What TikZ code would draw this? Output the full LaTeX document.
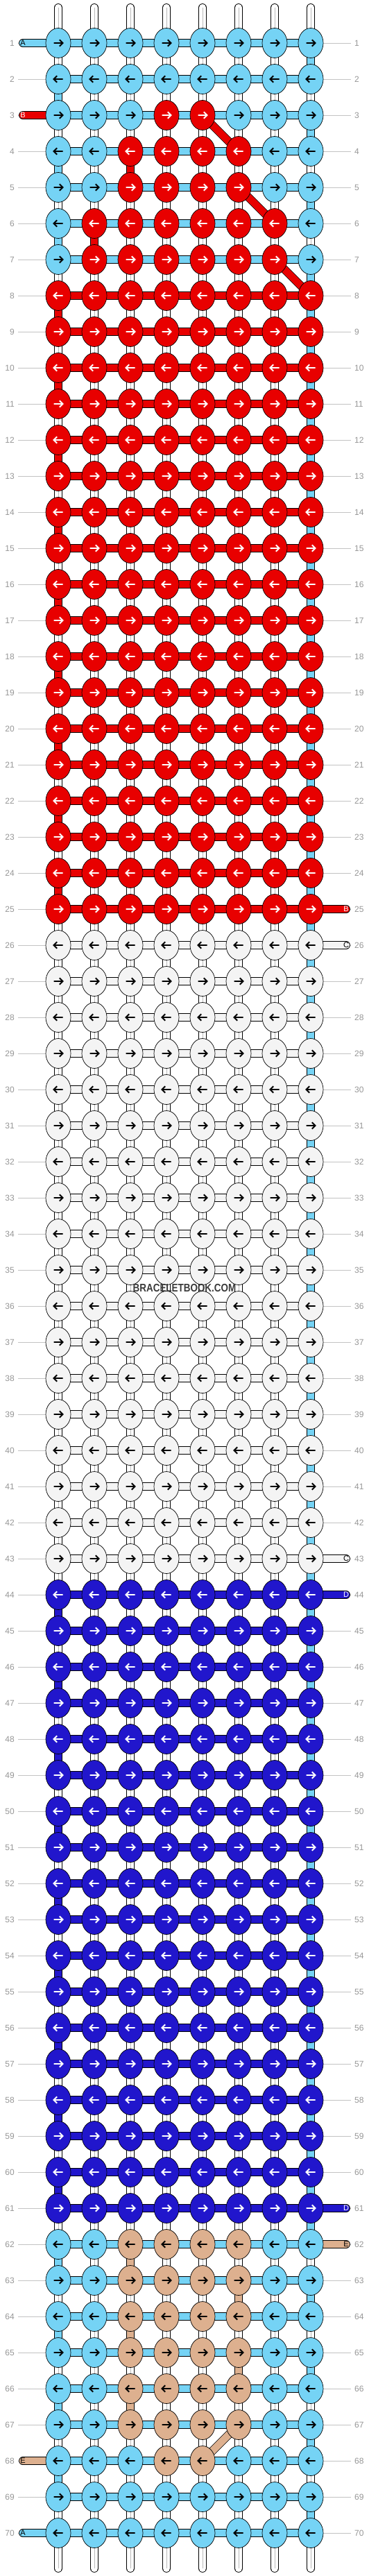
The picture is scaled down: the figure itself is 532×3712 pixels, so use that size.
\documentclass[tikz,border=0pt]{standalone}
\usepackage{fontspec}
\setmainfont{Liberation Sans}
\usetikzlibrary{shapes.geometric}
\definecolor{cL}{RGB}{117,211,245}
\definecolor{cR}{RGB}{232,0,0}
\definecolor{cW}{RGB}{244,244,244}
\definecolor{cD}{RGB}{33,22,204}
\definecolor{cT}{RGB}{221,176,143}
\colorlet{aL}{black}
\colorlet{aR}{white}
\colorlet{aW}{black}
\colorlet{aD}{white}
\colorlet{aT}{black}
\definecolor{numgray}{RGB}{150,150,150}
\definecolor{rulegray}{RGB}{195,195,195}
\definecolor{markgray}{RGB}{58,58,58}
\pgfdeclarelayer{bg}
\pgfsetlayers{bg,main}
\tikzset{knot/.style={ellipse,draw=black,line width=0.7pt,fill=c#1,
           minimum width=36pt,minimum height=43pt,inner sep=0pt},
         arrowline/.style={line width=1.9pt,draw=a#1},
         rim/.style={line width=11.8pt,black},
         strand/.style={line width=10.4pt,draw=c#1},
         twin/.style={line width=10.4pt,white},
         seam/.style={line width=0.6pt,gray!55},
         rownum/.style={text=numgray,font=\fontsize{12}{12}\selectfont,inner sep=0pt},
         rowrule/.style={line width=0.8pt,rulegray},
         tag/.style={text=a#1,font=\fontsize{11}{11}\selectfont,inner sep=0pt}}
\newcommand{\knotarrow}[3]{%
  \ifodd#1\relax\def\arrtail{-6.5}\def\arrtip{6.5}\def\arrbarb{1.8}%
  \else\def\arrtail{6.5}\def\arrtip{-6.5}\def\arrbarb{-1.8}\fi
  \draw[arrowline=#3] ([xshift=\arrtail pt]k-#1-#2.center) -- ([xshift=\arrtip pt]k-#1-#2.center)
    ([xshift=\arrbarb pt,yshift=4.7pt]k-#1-#2.center) -- ([xshift=\arrtip pt]k-#1-#2.center)
    -- ([xshift=\arrbarb pt,yshift=-4.7pt]k-#1-#2.center);}
\begin{document}
\begin{tikzpicture}[x=1pt,y=-1pt]
\useasboundingbox (0,0) rectangle (532,3712);
% knots
\foreach \r/\pat in {1/{L,L,L,L,L,L,L,L},2/{L,L,L,L,L,L,L,L},3/{L,L,L,R,R,L,L,L},
    4/{L,L,R,R,R,R,L,L},5/{L,L,R,R,R,R,L,L},6/{L,R,R,R,R,R,R,L},7/{L,R,R,R,R,R,R,L},
    62/{L,L,T,T,T,T,L,L},63/{L,L,T,T,T,T,L,L},64/{L,L,T,T,T,T,L,L},65/{L,L,T,T,T,T,L,L},
    66/{L,L,T,T,T,T,L,L},67/{L,L,T,T,T,T,L,L},68/{L,L,L,T,T,L,L,L},
    69/{L,L,L,L,L,L,L,L},70/{L,L,L,L,L,L,L,L}}
  \foreach \k [count=\c] in \pat {
    \node[knot=\k] (k-\r-\c) at ({266+52*(\c-4.5)},{1856+52*(\r-35.5)}) {};
    \knotarrow{\r}{\c}{\k}
  }
\foreach \first/\last/\k in {8/25/R,26/43/W,44/61/D}
  \foreach \r in {\first,...,\last}
    \foreach \c in {1,...,8} {
      \node[knot=\k] (k-\r-\c) at ({266+52*(\c-4.5)},{1856+52*(\r-35.5)}) {};
      \knotarrow{\r}{\c}{\k}
    }
% row numbers
\foreach \r in {1,...,70} {
  \node[rownum,anchor=east] (nl-\r) at (21,{1856+52*(\r-35.5)}) {\r};
  \node[rownum,anchor=west] (nr-\r) at (511,{1856+52*(\r-35.5)}) {\r};
}
\node[text=markgray,font=\bfseries\fontsize{16}{16}\selectfont,inner sep=0pt,
  xscale=0.84,transform shape] (mark) at (266,1856) {BRACELETBOOK.COM};
\begin{pgfonlayer}{bg}
\foreach \r in {1,...,70} {
  \draw[rowrule] ([xshift=5pt]nl-\r.east) -- (k-\r-1.center);
  \draw[rowrule] (k-\r-8.center) -- ([xshift=-5pt]nr-\r.west);
}
% strings down the columns
\foreach \r [evaluate=\r as \n using int(\r+1)] in {1,...,69}
  \foreach \c in {1,...,8} {
    \draw[rim] (k-\r-\c.center) -- (k-\n-\c.center);
    \draw[twin] (k-\r-\c.center) -- (k-\n-\c.center);
    \draw[seam] (k-\r-\c.center) -- (k-\n-\c.center);
  }
\foreach \c in {1,...,8} {
  \coordinate (top-\c) at ({266+52*(\c-4.5)},11);
  \coordinate (bot-\c) at ({266+52*(\c-4.5)},3701);
  \draw[rim,line cap=round] (top-\c) -- (k-1-\c.center);
  \draw[twin,line cap=round] (top-\c) -- (k-1-\c.center);
  \draw[seam] (top-\c) -- (k-1-\c.center);
  \draw[rim,line cap=round] (bot-\c) -- (k-70-\c.center);
  \draw[twin,line cap=round] (bot-\c) -- (k-70-\c.center);
  \draw[seam] (bot-\c) -- (k-70-\c.center);
}
% coloured links between rows
\foreach \c/\r/\k [evaluate=\r as \n using int(\r+1)] in {1/2/L,1/4/L,1/6/L,8/1/L,8/3/L,8/5/L,
    3/4/R,2/6/R,3/62/T,6/63/T,3/64/T,6/65/T,3/66/T,1/62/L,1/64/L,1/66/L,1/68/L,
    8/63/L,8/65/L,8/67/L,8/69/L} {
  \draw[rim] (k-\r-\c.center) -- (k-\n-\c.center);
  \draw[strand=\k] (k-\r-\c.center) -- (k-\n-\c.center);
}
\foreach \r [evaluate=\r as \n using int(\r+1)] in {7,...,61} {
  \draw[rim] (k-\r-8.center) -- (k-\n-8.center);
  \draw[strand=L] (k-\r-8.center) -- (k-\n-8.center);
}
\foreach \r/\k [evaluate=\r as \n using int(\r+1)] in {8/R,10/R,12/R,14/R,16/R,18/R,20/R,22/R,24/R,
    44/D,46/D,48/D,50/D,52/D,54/D,56/D,58/D,60/D} {
  \draw[rim] (k-\r-1.center) -- (k-\n-1.center);
  \draw[strand=\k] (k-\r-1.center) -- (k-\n-1.center);
}
% working strings across the rows
\foreach \r in {1,...,70} {
  \ifnum\r<8 \def\band{L}\else\ifnum\r<26 \def\band{R}\else
  \ifnum\r<44 \def\band{W}\else\ifnum\r<62 \def\band{D}\else\def\band{L}\fi\fi\fi\fi
  \foreach \c [evaluate=\c as \n using int(\c+1)] in {1,...,7} {
    \draw[rim] (k-\r-\c.center) -- (k-\r-\n.center);
    \draw[strand=\band] (k-\r-\c.center) -- (k-\r-\n.center);
  }
}
\foreach \a/\b/\k in {3-5/4-6/R,5-6/6-7/R,7-7/8-8/R,67-6/68-5/T} {
  \draw[rim] (k-\a.center) -- (k-\b.center);
  \draw[strand=\k] (k-\a.center) -- (k-\b.center);
}
% loose ends
\foreach \r/\c/\x/\k/\lab in {1/1/33/L/A,3/1/33/R/B,68/1/33/T/E,70/1/33/L/A,
    25/8/499/R/B,26/8/499/W/C,43/8/499/W/C,44/8/499/D/D,61/8/499/D/D,62/8/499/T/E} {
  \coordinate (end-\r) at (\x,{1856+52*(\r-35.5)});
  \draw[rim,line cap=round] (end-\r) -- (k-\r-\c.center);
  \draw[strand=\k,line cap=round] (end-\r) -- (k-\r-\c.center);
  \node[tag=\k] (tag-\r) at (end-\r) {\lab};
}
\end{pgfonlayer}
\end{tikzpicture}
\end{document}
